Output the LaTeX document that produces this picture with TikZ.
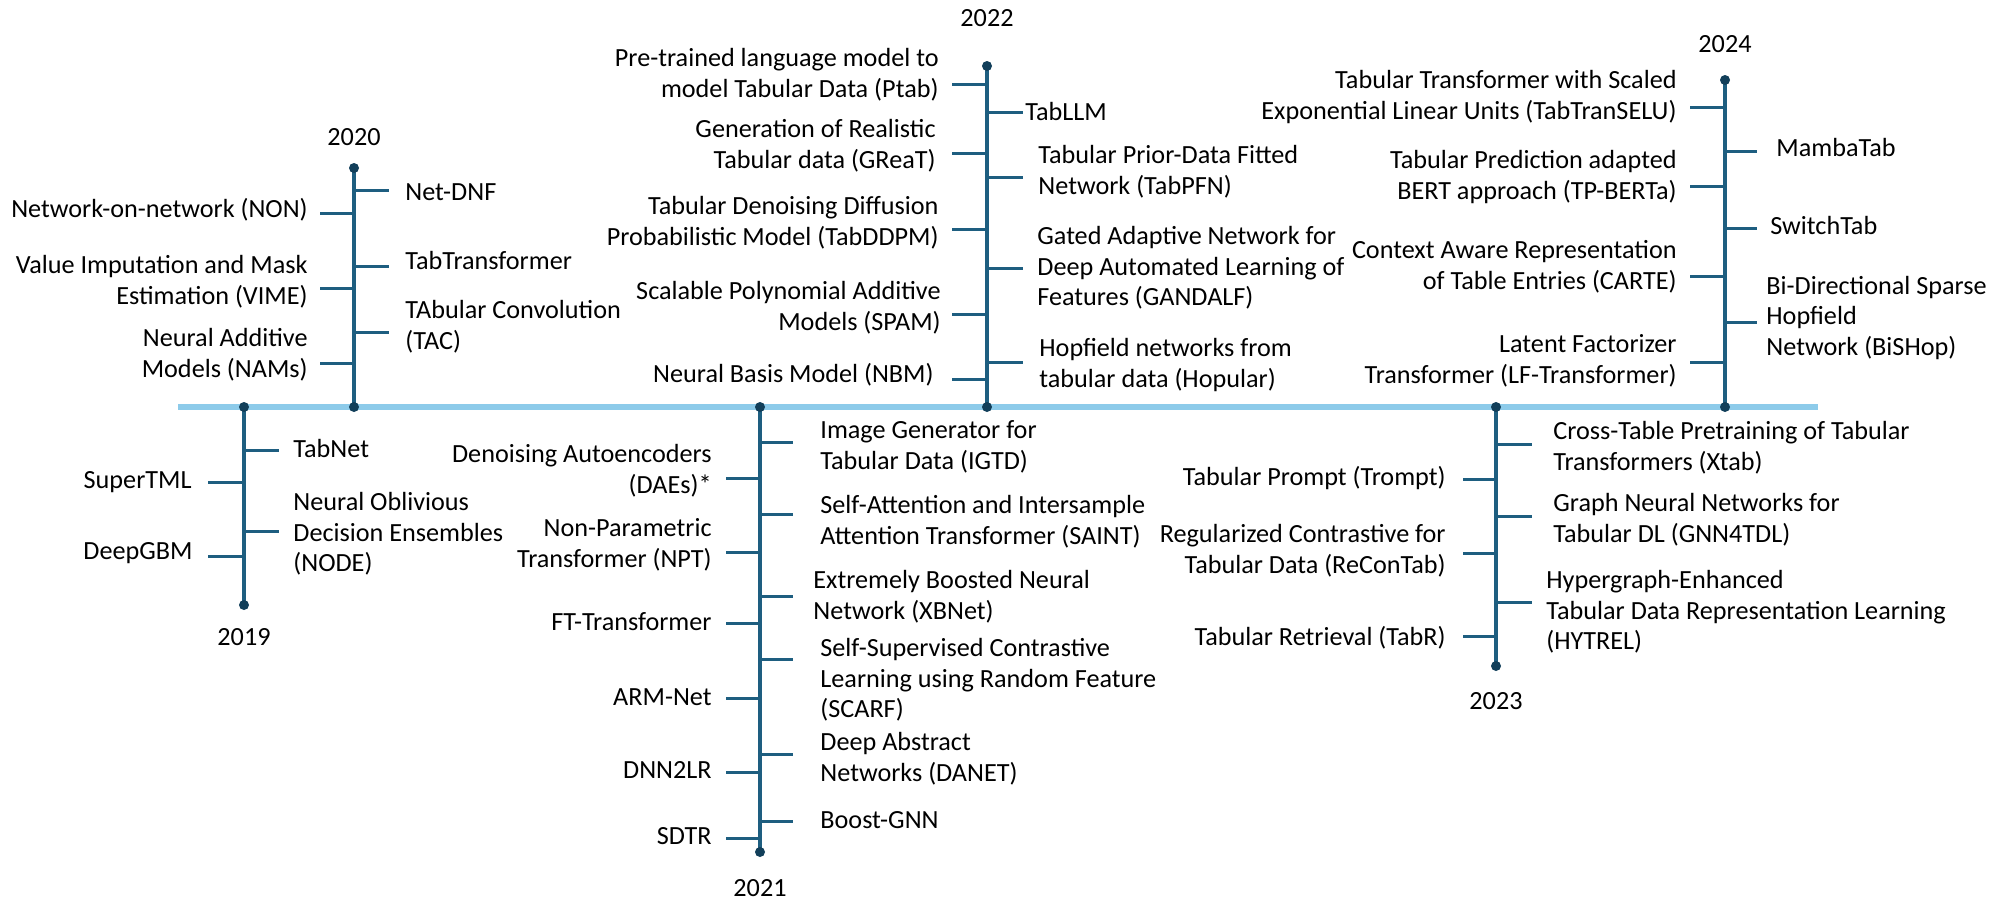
\documentclass[tikz,border=0pt]{standalone}
\usepackage{fontspec}
\setmainfont{Carlito}
\usetikzlibrary{positioning}
\definecolor{axisblue}{HTML}{8DCBEA}
\definecolor{stemblue}{HTML}{1E5E80}
\definecolor{dotblue}{HTML}{123F5A}
\tikzset{
    lbl/.style={inner sep=0pt, font=\fontsize{13.1pt}{15.3pt}\selectfont},
    lblr/.style={lbl, anchor=west, align=left},
    lbll/.style={lbl, anchor=east, align=right},
    yearlbl/.style={lbl},
    axisline/.style={line width=2.6pt, axisblue},
    stem/.style={line width=2pt, stemblue},
    tick/.style={line width=1.5pt, stemblue},
    enddot/.style={fill=dotblue}
}

\begin{document}
\begin{tikzpicture}[x=0.5pt, y=-0.5pt]
    \useasboundingbox (0,0) rectangle (2003,905);
    % Axis and stems
    \coordinate (axstart) at (178,407);
    \coordinate (axend) at (1818,407);
    \coordinate (a2019) at (244,407);  \coordinate (e2019) at (244,605);
    \coordinate (a2020) at (354,407);  \coordinate (e2020) at (354,168);
    \coordinate (a2021) at (760,407);  \coordinate (e2021) at (760,852);
    \coordinate (a2022) at (987,407);  \coordinate (e2022) at (987,66);
    \coordinate (a2023) at (1496,407); \coordinate (e2023) at (1496,666);
    \coordinate (a2024) at (1725,407); \coordinate (e2024) at (1725,80);
    \draw [axisline] (axstart) -- (axend);
    \draw [stem] (a2019) -- (e2019);
    \draw [stem] (a2020) -- (e2020);
    \draw [stem] (a2021) -- (e2021);
    \draw [stem] (a2022) -- (e2022);
    \draw [stem] (a2023) -- (e2023);
    \draw [stem] (a2024) -- (e2024);
    % Years
    \node (y2019) [yearlbl, below=11.5pt of e2019] {2019};
    \node (y2020) [yearlbl, above=11pt of e2020] {2020};
    \node (y2021) [yearlbl, below=13.5pt of e2021] {2021};
    \node (y2022) [yearlbl, above=19.5pt of e2022] {2022};
    \node (y2023) [yearlbl, below=13pt of e2023] {2023};
    \node (y2024) [yearlbl, above=13.5pt of e2024] {2024};
    % 2019
    \foreach \ty in {450,531} \draw [tick] (a2019 |- 0,\ty) -- +(35,0);
    \foreach \ty in {482,556} \draw [tick] (a2019 |- 0,\ty) -- +(-36,0);
    \node (tabnet) [lblr] at (293,448) {TabNet};
    \node (node) [lblr] at (293,534) {Neural Oblivious\\Decision Ensembles\\(NODE)};
    \node (supertml) [lbll] at (192,482) {SuperTML};
    \node (deepgbm) [lbll] at (193,553) {DeepGBM};
    % 2020
    \foreach \ty in {190,266,332} \draw [tick] (a2020 |- 0,\ty) -- +(35,0);
    \foreach \ty in {213,288,363} \draw [tick] (a2020 |- 0,\ty) -- +(-34,0);
    \node (netdnf) [lblr] at (405,192) {Net-DNF};
    \node (tabtransformer) [lblr] at (405,260) {TabTransformer};
    \node (tac) [lblr] at (405,327) {TAbular Convolution\\(TAC)};
    \node (non) [lbll] at (308,210) {Network-on-network (NON)};
    \node (vime) [lbll] at (308,282) {Value Imputation and Mask\\Estimation (VIME)};
    \node (nams) [lbll] at (308,355) {Neural Additive\\Models (NAMs)};
    % 2021
    \foreach \ty in {442,514,596,659,754,821} \draw [tick] (a2021 |- 0,\ty) -- +(33,0);
    \foreach \ty in {478,552,623,698,772,838} \draw [tick] (a2021 |- 0,\ty) -- +(-34,0);
    \node (igtd) [lblr] at (820,447) {Image Generator for\\Tabular Data (IGTD)};
    \node (saint) [lblr] at (820,522) {Self-Attention and Intersample\\Attention Transformer (SAINT)};
    \node (xbnet) [lblr] at (813,597) {Extremely Boosted Neural\\Network (XBNet)};
    \node (scarf) [lblr] at (820,680) {Self-Supervised Contrastive\\Learning using Random Feature\\(SCARF)};
    \node (danet) [lblr] at (820,759) {Deep Abstract\\Networks (DANET)};
    \node (boostgnn) [lblr] at (820,820) {Boost-GNN};
    \node (daes) [lbll] at (712,471) {Denoising Autoencoders\\(DAEs)*};
    \node (npt) [lbll] at (712,545) {Non-Parametric\\Transformer (NPT)};
    \node (ftt) [lbll] at (712,622) {FT-Transformer};
    \node (armnet) [lbll] at (712,697) {ARM-Net};
    \node (dnn2lr) [lbll] at (712,770) {DNN2LR};
    \node (sdtr) [lbll] at (712,836) {SDTR};
    % 2022
    \foreach \ty in {112,177,268,362} \draw [tick] (a2022 |- 0,\ty) -- +(36,0);
    \foreach \ty in {84,153,229,314,379} \draw [tick] (a2022 |- 0,\ty) -- +(-35,0);
    \node (tabllm) [lblr] at (1025,111) {TabLLM};
    \node (tabpfn) [lblr] at (1038,172) {Tabular Prior-Data Fitted\\Network (TabPFN)};
    \node (gandalf) [lblr] at (1037,268) {Gated Adaptive Network for\\Deep Automated Learning of\\Features (GANDALF)};
    \node (hopular) [lblr] at (1039,365) {Hopfield networks from\\tabular data (Hopular)};
    \node (ptab) [lbll] at (939,75) {Pre-trained language model to\\model Tabular Data (Ptab)};
    \node (great) [lbll] at (936,146) {Generation of Realistic\\Tabular data (GReaT)};
    \node (tabddpm) [lbll] at (939,223) {Tabular Denoising Diffusion\\Probabilistic Model (TabDDPM)};
    \node (spam) [lbll] at (941,308) {Scalable Polynomial Additive\\Models (SPAM)};
    \node (nbm) [lbll] at (934,375) {Neural Basis Model (NBM)};
    % 2023
    \foreach \ty in {444,516,602} \draw [tick] (a2023 |- 0,\ty) -- +(36,0);
    \foreach \ty in {479,553,636} \draw [tick] (a2023 |- 0,\ty) -- +(-33,0);
    \node (xtab) [lblr] at (1553,448) {Cross-Table Pretraining of Tabular\\Transformers (Xtab)};
    \node (gnn4tdl) [lblr] at (1553,520) {Graph Neural Networks for\\Tabular DL (GNN4TDL)};
    \node (hytrel) [lblr] at (1546,612) {Hypergraph-Enhanced\\Tabular Data Representation Learning\\(HYTREL)};
    \node (trompt) [lbll] at (1446,478) {Tabular Prompt (Trompt)};
    \node (recontab) [lbll] at (1446,551) {Regularized Contrastive for\\Tabular Data (ReConTab)};
    \node (tabr) [lbll] at (1446,638) {Tabular Retrieval (TabR)};
    % 2024
    \foreach \ty in {151,228,322} \draw [tick] (a2024 |- 0,\ty) -- +(32,0);
    \foreach \ty in {107,186,276,362} \draw [tick] (a2024 |- 0,\ty) -- +(-35,0);
    \node (mambatab) [lblr] at (1776,147) {MambaTab};
    \node (switchtab) [lblr] at (1770,225) {SwitchTab};
    \node (bishop) [lblr] at (1766,318) {Bi-Directional Sparse\\Hopfield\\Network (BiSHop)};
    \node (tabtranselu) [lbll] at (1677,97) {Tabular Transformer with Scaled\\Exponential Linear Units (TabTranSELU)};
    \node (tpberta) [lbll] at (1677,177) {Tabular Prediction adapted\\BERT approach (TP-BERTa)};
    \node (carte) [lbll] at (1677,267) {Context Aware Representation\\of Table Entries (CARTE)};
    \node (lftransformer) [lbll] at (1677,361) {Latent Factorizer\\Transformer (LF-Transformer)};
    % Dots
    \foreach \p in {a2019,e2019,a2020,e2020,a2021,e2021,a2022,e2022,a2023,e2023,a2024,e2024}
        \fill [enddot] (\p) circle (2.5pt);
\end{tikzpicture}
\end{document}
